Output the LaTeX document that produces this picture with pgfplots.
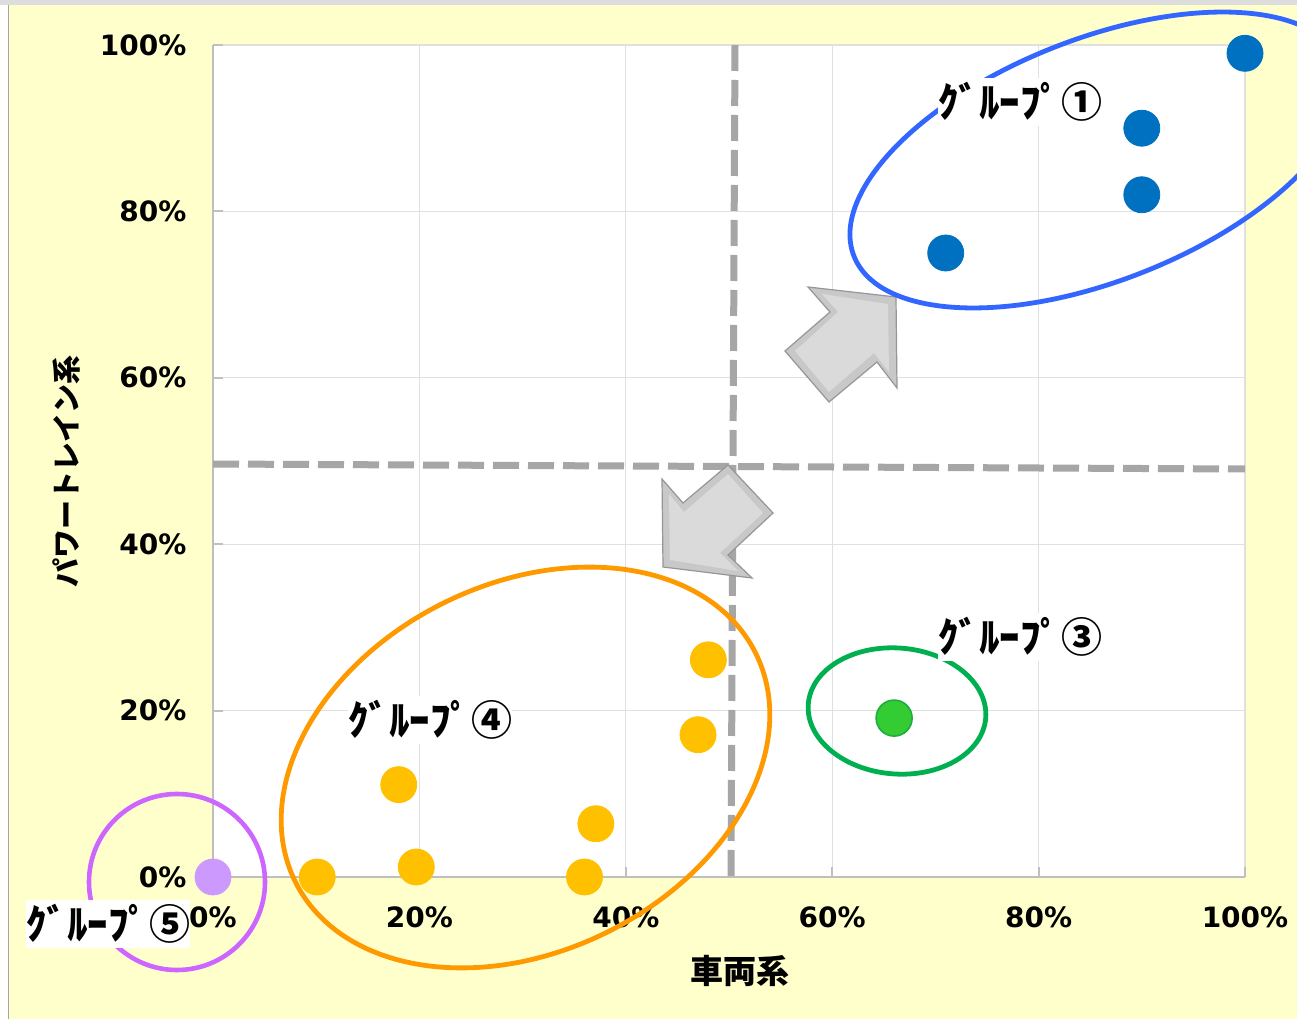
\documentclass[border=0pt]{standalone}
\usepackage{pgfplots}
\pgfplotsset{compat=1.18}
\usepackage{fontspec}
\setmainfont{DejaVu Sans}
\newfontfamily\cjk{Noto Sans CJK JP}
\definecolor{bgy}{HTML}{FFFFCC}
\definecolor{topgray}{HTML}{DDDDDD}
\definecolor{gridc}{HTML}{E0E0E0}
\definecolor{axc}{HTML}{BFBFBF}
\definecolor{dashc}{HTML}{A6A6A6}
\definecolor{c1}{HTML}{0070C0}
\definecolor{c3}{HTML}{33CC33}
\definecolor{c3e}{HTML}{22AA44}
\definecolor{c4}{HTML}{FFC000}
\definecolor{c5}{HTML}{CC99FF}
\definecolor{e1}{HTML}{3366FF}
\definecolor{e3}{HTML}{00B050}
\definecolor{e4}{HTML}{FF9900}
\definecolor{e5}{HTML}{CC66FF}
\definecolor{arrf}{HTML}{C8C8C8}
\definecolor{arrl}{HTML}{DADADA}
\definecolor{arrd}{HTML}{969696}
\begin{document}
\begin{tikzpicture}
\path[use as bounding box] (0,0) rectangle (648.5pt,509.5pt);
\clip (0,0) rectangle (648.5pt,509.5pt);
\fill[bgy] (0,0) rectangle (648.5pt,509.5pt);
\fill[topgray] (0,507pt) rectangle (648.5pt,509.5pt);
\fill[white] (0,0) rectangle (4pt,507pt);
\draw[gray!70, line width=0.6pt] (4.3pt,0) -- (4.3pt,507pt);
\begin{axis}[
  at={(106.5pt,71pt)}, anchor=south west,
  width=516pt, height=416pt, scale only axis,
  xmin=0, xmax=100, ymin=0, ymax=100,
  axis background/.style={fill=white},
  axis x line*=bottom, axis y line*=left,
  axis line style={-, color=axc, line width=1.3pt},
  xtick={0,20,40,60,80,100}, ytick={0,20,40,60,80,100},
  xticklabels={0\%,20\%,40\%,60\%,80\%,100\%},
  yticklabels={0\%,20\%,40\%,60\%,80\%,100\%},
  tick align=inside, major tick length=5pt,
  tick style={color=axc, line width=1pt},
  grid=major, major grid style={color=gridc, line width=0.6pt},
  /pgf/number format/assume math mode=true,
  xticklabel style={font=\fontsize{14}{16}\selectfont\bfseries, yshift=-11.5pt},
  yticklabel style={font=\fontsize{14}{16}\selectfont\bfseries, xshift=-9.8pt},
  xlabel={\cjk\bfseries 車両系},
  ylabel={\cjk\bfseries パワートレイン系},
  every axis x label/.style={at={(axis description cs:0.5107,-0.113)}, anchor=center, font=\fontsize{16.5}{18}\selectfont},
  every axis y label/.style={at={(axis description cs:-0.142,0.4868)}, anchor=center, rotate=90, font=\fontsize{14.5}{16}\selectfont},
  clip=false,
]
\addplot[only marks, mark=*, mark size=9pt, mark options={fill=c1, draw=c1}] coordinates {
  (100,99) (90,90) (90,82) (71,75)
};
\addplot[only marks, mark=*, mark size=9pt, mark options={fill=c3, draw=c3e, line width=0.8pt}] coordinates {
  (66,19.1)
};
\addplot[only marks, mark=*, mark size=9pt, mark options={fill=c4, draw=c4}] coordinates {
  (48,26.1) (47,17.1) (18,11.1) (37.1,6.4) (19.7,1.2) (10.1,0) (36,0)
};
\addplot[only marks, mark=*, mark size=9pt, mark options={fill=c5, draw=c5}] coordinates {
  (0,0)
};
\end{axis}
\begin{scope}[x=0.5pt,y=-0.5pt,shift={(0,509.5pt)}]
  % reference dashed lines
  \draw[dashc, line width=3.5pt, dash pattern=on 13pt off 4.5pt] (213,464) -- (1245,469);
  \draw[dashc, line width=3.5pt, dash pattern=on 13pt off 4.5pt] (735,45) -- (731,877);
  % block arrows
  \filldraw[fill=arrf, draw=arrd, line width=0.6pt, line join=miter]
    (896,297) -- (897,388) -- (877,362) -- (829,402) -- (785,351) -- (830,312) -- (808,287) -- cycle;
  \fill[arrl] (888,304) -- (889,372) -- (874,353) -- (829,392) -- (795,351) -- (838,312) -- (822,294) -- cycle;
  \filldraw[fill=arrf, draw=arrd, line width=0.6pt, line join=miter]
    (663,567) -- (662,479) -- (683,503) -- (728,465) -- (773,513) -- (728,555) -- (752,578) -- cycle;
  \fill[arrl] (670,560) -- (669,494) -- (684,512) -- (728,474) -- (763,513) -- (720,553) -- (738,571) -- cycle;
  % ellipses
  \draw[e1, line width=2.4pt, rotate around={21.5:(1098,160)}] (1098,160) ellipse [x radius=131.15pt, y radius=60.45pt];
  \draw[e4, line width=2.4pt, rotate around={26.4:(525.5,767.5)}] (525.5,767.5) ellipse [x radius=128.5pt, y radius=91.9pt];
  \draw[e3, line width=2.4pt, rotate around={-4.5:(897,711)}] (897,711) ellipse [x radius=44.5pt, y radius=31.5pt];
  \draw[e5, line width=2.3pt] (177,882) circle [radius=44pt];
  % group labels
  \tikzset{grp/.style={fill=white, inner sep=0pt, minimum width=82pt, minimum height=24pt, font=\cjk\bfseries\fontsize{20.5}{22}\selectfont}}
  \node[grp] at (1020,102) {ｸﾞﾙｰﾌﾟ①};
  \node[grp] at (1020,637) {ｸﾞﾙｰﾌﾟ③};
  \node[grp] at (430,720) {ｸﾞﾙｰﾌﾟ④};
  \node[grp] at (108,924) {ｸﾞﾙｰﾌﾟ⑤};
\end{scope}
\end{tikzpicture}
\end{document}
